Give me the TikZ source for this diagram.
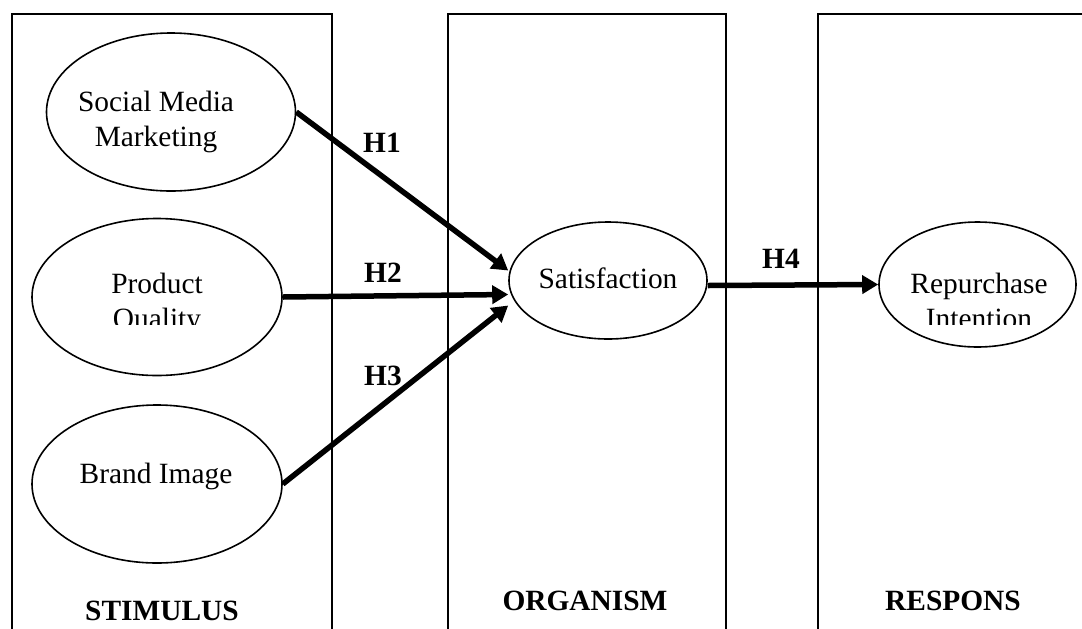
\documentclass[tikz,border=0pt]{standalone}
\usepackage{fontspec}
\setmainfont{Liberation Serif}
\usetikzlibrary{arrows.meta,shapes.geometric}
\tikzset{
  var/.style={draw, ellipse, line width=0.8pt, inner sep=0pt},
  txt/.style={font=\fontsize{14.7}{17.5}\selectfont, align=center, anchor=base, inner sep=0pt},
  hyp/.style={font=\fontsize{14.7}{17.5}\selectfont\bfseries, anchor=base, inner sep=0pt},
  panel/.style={draw, line width=1pt},
  flow/.style={-{Triangle[length=8pt,width=9pt]}, line width=2.75pt},
}

\begin{document}
\begin{tikzpicture}[x=0.5pt, y=-0.5pt]
  \clip (0,0) rectangle (1082,628);
  % the three S-O-R panels
  \draw[panel] (12,14) rectangle (332,660);
  \draw[panel] (448,14) rectangle (726,660);
  \draw[panel] (818,14) rectangle (1100,660);
  \node[hyp] (stimulus) at (162,620) {STIMULUS};
  \node[hyp] (organism) at (585,610) {ORGANISM};
  \node[hyp] (respons) at (953,610) {RESPONS};

  % variables
  \node[var, minimum width=124.5pt, minimum height=79pt] (smm) at (171,112) {};
  \node[var, minimum width=125pt, minimum height=78.5pt] (pq) at (157,297) {};
  \node[var, minimum width=125pt, minimum height=79pt] (bi) at (157,484) {};
  \node[var, minimum width=99pt, minimum height=58.5pt] (sat) at (608,280.5) {};
  \node[var, minimum width=98.5pt, minimum height=62.5pt] (rep) at (977.5,284.5) {};

  \node[txt] (smmtxt) at (156,146) {Social Media\\Marketing};
  \begin{scope}
    \clip (90,250) rectangle (225,324);
    \node[txt] (pqtxt) at (157,328) {Product\\Quality};
  \end{scope}
  \node[txt] (bitxt) at (156,483) {Brand Image};
  \node[txt] (sattxt) at (608,288) {Satisfaction};
  \begin{scope}
    \clip (890,250) rectangle (1070,324);
    \node[txt] (reptxt) at (979,328) {Repurchase\\Intention};
  \end{scope}

  % hypotheses
  \draw[flow] (smm.east) -- ([yshift=5pt]sat.west);
  \draw[flow] (pq.east) -- ([yshift=-7pt]sat.west);
  \draw[flow] (bi.east) -- ([yshift=-12.5pt]sat.west);
  \draw[flow] ([yshift=-2.5pt]sat.east) -- (rep.west);
  \node[hyp] (h1) at (382,152) {H1};
  \node[hyp] (h2) at (383,282) {H2};
  \node[hyp] (h3) at (383,385) {H3};
  \node[hyp] (h4) at (781,268) {H4};
\end{tikzpicture}
\end{document}
